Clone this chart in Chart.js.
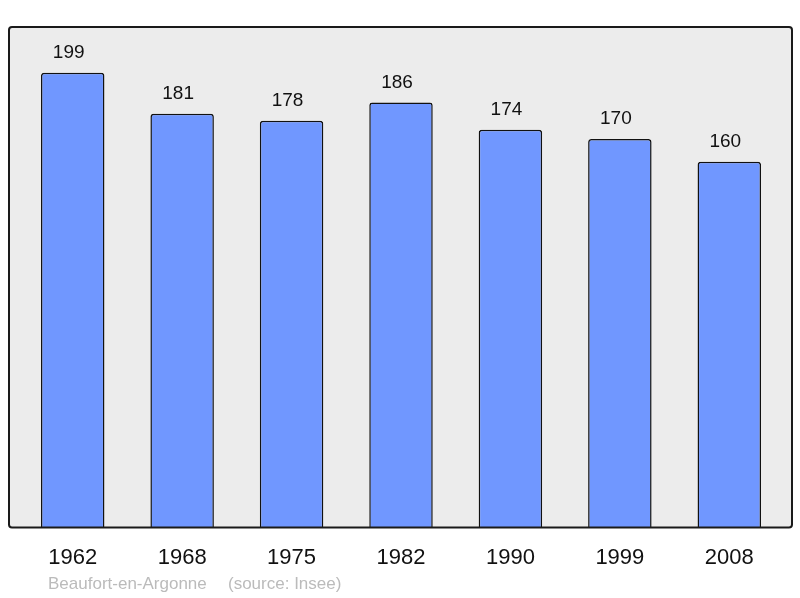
<!DOCTYPE html>
<html>
<head>
<meta charset="utf-8">
<script src="https://cdn.jsdelivr.net/npm/chart.js@4/dist/chart.umd.min.js"></script>
<style>
html,body{margin:0;padding:0;background:#fff;}
canvas{display:block;}
</style>
</head>
<body>
<canvas id="c" width="800" height="598"></canvas>
<script>
const years = ["1962","1968","1975","1982","1990","1999","2008"];
const population = [199,181,178,186,174,170,160];
const footerName = "Beaufort-en-Argonne";
const footerSource = "(source: Insee)";

const boxPlugin = {
  id: 'box',
  beforeDatasetsDraw(chart) {
    const {ctx, chartArea: a} = chart;
    const x0 = a.left - 9, x1 = a.right + 8, y0 = a.top, y1 = a.bottom;
    ctx.save();
    ctx.beginPath();
    ctx.roundRect(x0, y0, x1 - x0, y1 - y0, 3);
    ctx.fillStyle = '#ececec';
    ctx.fill();
    ctx.restore();
  },
  afterDatasetsDraw(chart) {
    const {ctx, chartArea: a} = chart;
    const x0 = a.left - 9, x1 = a.right + 8, y0 = a.top, y1 = a.bottom;
    ctx.save();
    ctx.beginPath();
    ctx.roundRect(x0, y0, x1 - x0, y1 - y0, 3);
    ctx.lineWidth = 2;
    ctx.strokeStyle = '#1a1a1a';
    ctx.stroke();
    const meta = chart.getDatasetMeta(0);
    ctx.fillStyle = '#111';
    ctx.font = '19px "Liberation Sans", Arial, sans-serif';
    ctx.textAlign = 'center';
    ctx.textBaseline = 'middle';
    meta.data.forEach((bar, i) => {
      ctx.fillText(String(population[i]), bar.x - 4, bar.y - 20);
    });
    ctx.fillStyle = '#bbbbbb';
    ctx.font = '17px "Liberation Sans", Arial, sans-serif';
    ctx.textAlign = 'left';
    ctx.fillText(footerName, 48, 584);
    ctx.fillText(footerSource, 228, 584);
    ctx.restore();
  }
};

new Chart(document.getElementById('c'), {
  type: 'bar',
  data: {
    labels: years,
    datasets: [{
      data: population,
      backgroundColor: '#7097ff',
      borderColor: '#111',
      borderWidth: 1.5,
      borderRadius: 3,
      borderSkipped: 'bottom',
      barPercentage: 0.58,
      categoryPercentage: 1
    }]
  },
  options: {
    responsive: false,
    animation: false,
    layout: {padding: {left: 18, right: 16, top: 27, bottom: 18}},
    plugins: {legend: {display: false}, tooltip: {enabled: false}},
    scales: {
      x: {
        grid: {display: false},
        border: {display: false},
        ticks: {color: '#111', font: {family: '"Liberation Sans", Arial, sans-serif', size: 22}, padding: 9, maxRotation: 0}
      },
      y: {
        display: false,
        min: 0,
        max: 219
      }
    }
  },
  plugins: [boxPlugin]
});
</script>
</body>
</html>
